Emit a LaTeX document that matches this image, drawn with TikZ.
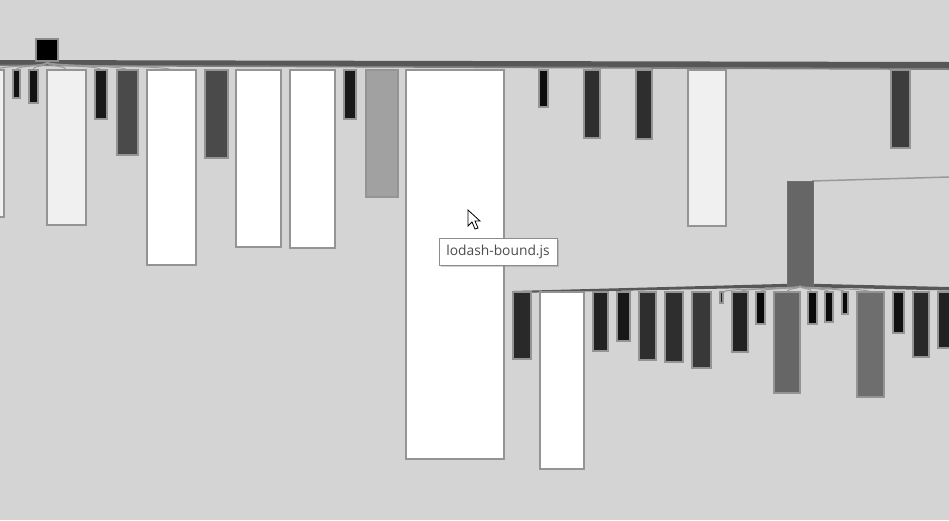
\documentclass[tikz,border=0pt]{standalone}
\usepackage{fontspec}
\newfontfamily\tipfont{Open Sans}
\usetikzlibrary{shadows}

\begin{document}
\begin{tikzpicture}[x=1pt, y=-1pt,
    barra/.style={draw=black!42, line width=1.2pt},
    rama/.style={draw=black!40, line width=1pt},
    haz/.style={fill=black!66}]
  \useasboundingbox (0,0) rectangle (949,520);
  \clip (0,0) rectangle (949,520);
  \fill[black!17] (0,0) rectangle (949,520);
  % haz superior
  \fill[black!50] (0,63)--(949,65)--(949,70)--(0,66)--cycle;
  \fill[haz] (0,60)--(949,62)--(949,68)--(0,64.5)--cycle;
  \foreach \cx in {-3,16,33,66,101,127,171}
    \draw[rama] (47,62) .. controls (47,67) and (\cx,65) .. (\cx,70);
  \draw[fill=black, draw=black!45, line width=1.2pt] (36,39) rectangle (58,61);
  % barras primer nivel
  \foreach \xa/\xb/\yb/\tono in {-10/4/217/6, 13/20/98/93, 29/38/103/93,
      47/86/225/6, 95/107/119/90, 117/138/155/71, 147/196/265/0,
      205/228/158/71, 236/281/247/0, 290/335/248/0, 344/356/119/90,
      366/398/197/37, 406/504/459/0, 539/548/107/95, 584/600/138/82,
      636/652/139/82, 688/726/226/6, 891/910/148/76}
    \draw[barra, fill=black!\tono] (\xa,70) rectangle (\xb,\yb);
  % segundo nodo
  \draw[rama, line width=1.5pt] (812,181) -- (949,177);
  \fill[haz] (513,291)--(800,283.5)--(949,287)--(949,290.5)--(800,287)--(513,293)--cycle;
  \draw[fill=black!60, draw=black!57, line width=1pt] (787,181) rectangle (813,286);
  \foreach \cx in {724,740,760,787,812,829,845,870}
    \draw[rama] (800,286) .. controls (800,289) and (\cx,288) .. (\cx,292);
  \foreach \xa/\xb/\yb/\tono in {513/531/359/84, 540/584/469/0, 593/608/351/87,
      617/630/341/91, 639/656/360/82, 665/683/362/82, 692/711/368/78,
      720/723/303/87, 732/748/352/87, 756/765/324/96, 774/800/393/60,
      808/817/324/96, 825/833/322/96, 842/848/314/96, 857/884/397/57,
      893/904/333/93, 913/929/357/84, 938/960/348/87}
    \draw[barra, fill=black!\tono] (\xa,292) rectangle (\xb,\yb);
  % puntero
  \draw[fill=white, draw=black, line width=0.8pt, line join=miter]
    (468,210)--(468,226)--(472,222)--(475,229)--(478,228)--(475,221)--(480,221)--cycle;
  % etiqueta
  \node[draw=black!45, fill=white, line width=1pt, minimum width=118pt,
    minimum height=27pt, inner sep=0pt, text=black!70,
    drop shadow={shadow xshift=2pt, shadow yshift=-2pt, opacity=0.35},
    font=\tipfont\fontsize{13.8}{16}\selectfont] (tip) at (498,251.5) {lodash-bound.js};
\end{tikzpicture}
\end{document}
